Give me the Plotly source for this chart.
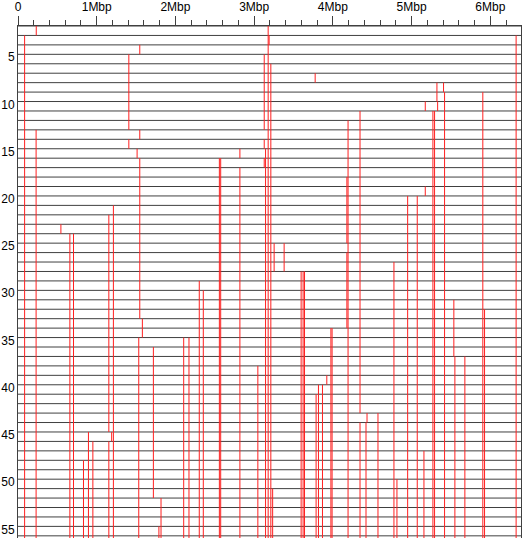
import plotly.graph_objects as go

# rows (genomes) and x axis labels
n_rows = 55
x_tick_vals = [0, 1, 2, 3, 4, 5, 6]
x_tick_text = ["0", "1Mbp", "2Mbp", "3Mbp", "4Mbp", "5Mbp", "6Mbp"]
y_tick_vals = [5, 10, 15, 20, 25, 30, 35, 40, 45, 50, 55]

# breakpoint segments: position (Mbp), row where it starts, row where it ends
# (56 means it runs to the bottom of the chart)
seg_pos = [0.232, 0.084, 3.178, 3.19, 1.547, 1.408, 3.128, 3.212, 3.775, 5.322,
           5.406, 5.419, 5.905, 5.331, 5.174, 5.271, 5.292, 4.345, 4.193, 6.328,
           0.23, 1.547, 1.408, 3.128, 1.513, 2.819, 3.145, 3.128, 1.547, 2.558,
           2.575, 2.819, 4.178, 5.174, 4.95, 5.072, 1.212, 1.154, 0.545, 0.659,
           0.705, 3.254, 3.381, 4.178, 4.776, 3.597, 3.622, 3.64, 2.303, 2.354,
           5.537, 5.927, 1.58, 3.975, 3.99, 2.105, 2.172, 1.534, 1.72, 5.55,
           5.677, 3.047, 3.923, 3.817, 3.868, 3.787, 4.434, 4.573, 4.345, 4.421,
           0.895, 1.19, 1.154, 0.951, 5.157, 0.832, 4.814, 3.235, 1.817, 1.79]
seg_from = [1, 2, 1, 2, 3, 4, 4, 5, 6, 7,
            7, 8, 8, 9, 9, 10, 10, 10, 11, 2,
            12, 12, 13, 13, 14, 14, 14, 15, 15, 15,
            15, 16, 17, 18, 19, 19, 20, 21, 22, 23,
            23, 24, 24, 25, 26, 27, 27, 27, 28, 29,
            30, 31, 32, 33, 33, 34, 34, 34, 35, 36,
            36, 37, 38, 39, 39, 40, 42, 42, 43, 43,
            44, 44, 45, 45, 46, 47, 49, 50, 51, 54]
seg_to = [2, 56, 56, 3, 4, 12, 12, 56, 7, 9,
          8, 56, 56, 10, 10, 56, 56, 42, 56, 56,
          56, 13, 14, 14, 15, 15, 56, 16, 32, 56,
          56, 56, 24, 19, 56, 56, 56, 44, 23, 56,
          56, 27, 27, 33, 56, 56, 56, 56, 56, 56,
          36, 56, 34, 56, 56, 56, 56, 56, 51, 56,
          56, 56, 39, 56, 56, 56, 43, 56, 56, 56,
          56, 45, 56, 56, 56, 56, 56, 56, 56, 56]

x_max = 6.39
y_bottom = 55.23

#horizontal line for each row
hx, hy = [], []
for r in range(1, n_rows + 1):
    hx += [0, x_max, None]
    hy += [r, r, None]

#vertical red segments
vx, vy = [], []
for p, a, b in zip(seg_pos, seg_from, seg_to):
    vx += [p, p, None]
    vy += [a, b, None]

fig = go.Figure()
fig.add_trace(go.Scatter(x=hx, y=hy, mode="lines", line=dict(color="#404040", width=1),
                         hoverinfo="skip"))
fig.add_trace(go.Scatter(x=vx, y=vy, mode="lines", line=dict(color="#ff2020", width=1),
                         hoverinfo="skip"))

fig.update_layout(
    width=522, height=538,
    margin=dict(l=18, r=1, t=26, b=0, pad=0, autoexpand=False),
    plot_bgcolor="white", paper_bgcolor="white",
    showlegend=False,
    font=dict(family="Liberation Sans, Arial, sans-serif", size=12, color="black"),
)
fig.update_xaxes(
    range=[0, x_max], side="top", showgrid=False, zeroline=False, automargin=False,
    showline=True, linecolor="#404040", linewidth=1,
    ticks="outside", ticklen=9, tickcolor="#404040", tickwidth=1,
    tickvals=x_tick_vals, ticktext=x_tick_text,
    minor=dict(ticks="outside", ticklen=5, dtick=0.2, tickcolor="#404040", showgrid=False),
)
# row labels sit just on top of their row line
fig.update_yaxes(
    range=[y_bottom, 1], showgrid=False, zeroline=False, automargin=False,
    showline=True, mirror=True, linecolor="#404040", linewidth=1,
    ticks="", tickvals=[v + 0.2 for v in y_tick_vals],
    ticktext=[str(v) for v in y_tick_vals],
    ticklabelposition="outside top",
)

# page body has a default 8px margin, drop it so the chart sits at the corner
fig.write_html("out.html", config={"displayModeBar": False},
               post_script="document.body.style.margin='0';")
